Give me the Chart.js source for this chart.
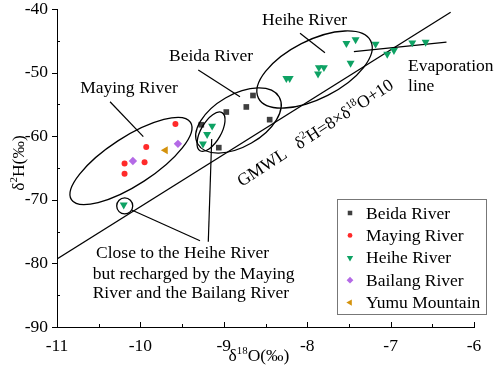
<!DOCTYPE html>
<html>
<head>
<meta charset="utf-8">
<script src="https://cdn.jsdelivr.net/npm/chart.js@4.4.0/dist/chart.umd.min.js"></script>
<style>
html, body { margin: 0; padding: 0; background: #fff; }
</style>
</head>
<body>
<canvas id="myChart" width="498" height="374"></canvas>
<script>
// values (delta 18O, delta 2H)
const beidaX = [-8.65, -8.73, -8.97, -9.27, -8.45, -9.06];
const beidaY = [-53.6, -55.4, -56.2, -58.2, -57.4, -61.8];
const mayingX = [-9.58, -9.93, -10.19, -9.95, -10.19];
const mayingY = [-58.1, -61.7, -64.3, -64.1, -65.9];
const heiheX = [-10.2, -9.14, -9.2, -9.25, -8.25, -8.21, -7.86, -7.8, -7.87, -7.48, -7.53, -7.42, -7.18, -7.04, -6.96, -6.74, -6.58];
const heiheY = [-70.8, -58.4, -59.7, -61.2, -50.9, -50.9, -49.2, -49.2, -50.2, -48.5, -45.4, -44.8, -45.5, -47.1, -46.5, -45.3, -45.2];
const bailangX = [-9.55, -10.09];
const bailangY = [-61.2, -63.9];
const yumuX = [-9.7];
const yumuY = [-62.2];

// GMWL and evaporation line end points
const gmwlX = [-11, -6.28];
const gmwlY = [-79.3, -40.5];
const evapX = [-7.44, -6.33];
const evapY = [-46.7, -45.2];

const xTicks = [-11, -10, -9, -8, -7, -6];
const yTicks = [-90, -80, -70, -60, -50, -40];

const FONT = '"Liberation Serif", "Times New Roman", serif';
const FS = 17.5;

function pts(xs, ys) {
    return xs.map((x, i) => ({ x: x, y: ys[i] }));
}

// ellipses around groups: centre in data units, radii in px, rotation in degrees
const ellipses = [
    { x: -10.113, y: -63.9, rx: 71, ry: 24, rot: -33 },
    { x: -8.824, y: -57.53, rx: 47, ry: 26, rot: -30 },
    { x: -9.153, y: -59.29, rx: 22, ry: 10, rot: -60 },
    { x: -7.912, y: -49.51, rx: 63, ry: 29, rot: -27 },
    { x: -10.188, y: -70.97, rx: 8, ry: 8, rot: 0 },
];

// leader lines [x1, y1, x2, y2] in data units
const leaders = [
    [-10.364, -54.58, -9.965, -60.08],
    [-9.306, -49.59, -8.806, -53.79],
    [-8.086, -43.82, -7.787, -46.87],
    [-10.104, -71.6, -9.285, -76.43],
    [-9.186, -76.59, -9.145, -60.44],
];

function richText(ctx, parts, x, y, size, align) {
    const big = size + 'px ' + FONT;
    const small = (size * 0.62) + 'px ' + FONT;
    let w = 0;
    parts.forEach(([t, s]) => {
        ctx.font = s ? small : big;
        w += ctx.measureText(t).width;
    });
    let cx = align === 'center' ? x - w / 2 : x;
    ctx.textBaseline = 'alphabetic';
    ctx.textAlign = 'left';
    const base = y + size * 0.33;
    parts.forEach(([t, s]) => {
        ctx.font = s ? small : big;
        ctx.fillText(t, cx, s ? base - size * 0.4 : base);
        cx += ctx.measureText(t).width;
    });
}

const annotations = {
    id: 'annotations',
    afterDatasetsDraw(chart) {
        const ctx = chart.ctx;
        const xs = chart.scales.x, ys = chart.scales.y;
        const area = chart.chartArea;
        const X = (v) => xs.getPixelForValue(v);
        const Y = (v) => ys.getPixelForValue(v);
        ctx.save();
        ctx.strokeStyle = '#000';
        ctx.fillStyle = '#000';

        // minor / major ticks
        ctx.lineWidth = 1;
        ctx.beginPath();
        for (let v = -11; v <= -6; v += 0.5) {
            const p = Math.round(X(v)) + 0.5;
            const len = Number.isInteger(v) ? 5 : 3;
            ctx.moveTo(p, area.bottom);
            ctx.lineTo(p, area.bottom - len);
        }
        for (let v = -90; v <= -40; v += 5) {
            const p = Math.round(Y(v)) + 0.5;
            if (v % 10 === 0) {
                ctx.moveTo(area.left - 5, p);
                ctx.lineTo(area.left, p);
            } else {
                ctx.moveTo(area.left, p);
                ctx.lineTo(area.left + 3, p);
            }
        }
        ctx.stroke();

        // ellipses
        ctx.lineWidth = 1.3;
        ellipses.forEach((e) => {
            ctx.beginPath();
            ctx.ellipse(X(e.x), Y(e.y), e.rx, e.ry, e.rot * Math.PI / 180, 0, Math.PI * 2);
            ctx.stroke();
        });

        // leader lines
        ctx.lineWidth = 1.2;
        leaders.forEach((l) => {
            ctx.beginPath();
            ctx.moveTo(X(l[0]), Y(l[1]));
            ctx.lineTo(X(l[2]), Y(l[3]));
            ctx.stroke();
        });

        // labels
        ctx.font = FS + 'px ' + FONT;
        ctx.textBaseline = 'middle';
        ctx.textAlign = 'center';
        ctx.fillText('Maying River', X(-10.137), Y(-52.42));
        ctx.fillText('Beida River', X(-9.153), Y(-47.39));
        ctx.fillText('Heihe River', X(-8.032), Y(-41.73));
        ctx.textAlign = 'left';
        ctx.fillText('Evaporation', X(-6.791), Y(-48.96));
        ctx.fillText('line', X(-6.791), Y(-52.11));
        ctx.fillText('Close to the Heihe River', X(-10.532), Y(-78.41));
        ctx.fillText('but recharged by the Maying', X(-10.572), Y(-81.67));
        ctx.fillText('River and the Bailang River', X(-10.572), Y(-84.7));

        // GMWL label along the line
        ctx.save();
        ctx.translate(X(-7.906), Y(-59.42));
        ctx.rotate(-33 * Math.PI / 180);
        richText(ctx, [['GMWL   δ', false], ['2', true], ['H=8×δ', false], ['18', true], ['O+10', false]], 0, 0, FS, 'center');
        ctx.restore();

        // axis titles
        richText(ctx, [['δ', false], ['18', true], ['O(‰)', false]], 259, 355, FS, 'center');
        ctx.save();
        ctx.translate(18, 163);
        ctx.rotate(-Math.PI / 2);
        richText(ctx, [['δ', false], ['2', true], ['H(‰)', false]], 0, 0, FS, 'center');
        ctx.restore();

        // legend box
        const lx = 337, ly = 199, lw = 149, lh = 115;
        ctx.lineWidth = 1;
        ctx.strokeStyle = '#777';
        ctx.strokeRect(lx + 0.5, ly + 0.5, lw, lh);
        ctx.textAlign = 'left';
        ctx.textBaseline = 'middle';
        ctx.font = FS + 'px ' + FONT;
        chart.data.datasets.forEach((ds, i) => {
            if (!ds.inLegend) return;
            const cy = ly + 14 + i * 22.4;
            ctx.fillStyle = ds.backgroundColor;
            ctx.strokeStyle = ds.backgroundColor;
            Chart.helpers.drawPoint(ctx, {
                pointStyle: ds.pointStyle,
                radius: ds.pointRadius * 0.8,
                rotation: ds.rotation || 0,
                borderWidth: 0,
            }, lx + 13, cy);
            ctx.fillStyle = '#000';
            ctx.fillText(ds.label, lx + 29, cy + 1);
        });
        ctx.restore();
    },
};

const scatterDefaults = { borderWidth: 0, showLine: false };

const ctx = document.getElementById('myChart').getContext('2d');
window.myChart = new Chart(ctx, {
    type: 'scatter',
    data: {
        datasets: [
            {
                ...scatterDefaults, label: 'Beida River', data: pts(beidaX, beidaY),
                pointStyle: 'rect', pointRadius: 4, backgroundColor: '#3f3f3f', inLegend: true,
            },
            {
                ...scatterDefaults, label: 'Maying River', data: pts(mayingX, mayingY),
                pointStyle: 'circle', pointRadius: 3, backgroundColor: '#ff2a2a', inLegend: true,
            },
            {
                ...scatterDefaults, label: 'Heihe River', data: pts(heiheX, heiheY),
                pointStyle: 'triangle', rotation: 180, pointRadius: 4.6, backgroundColor: '#0ea264', inLegend: true,
            },
            {
                ...scatterDefaults, label: 'Bailang River', data: pts(bailangX, bailangY),
                pointStyle: 'rectRot', pointRadius: 4.2, backgroundColor: '#b46ae6', inLegend: true,
            },
            {
                ...scatterDefaults, label: 'Yumu Mountain', data: pts(yumuX, yumuY),
                pointStyle: 'triangle', rotation: 270, pointRadius: 4.6, backgroundColor: '#d4920c', inLegend: true,
            },
            {
                label: 'GMWL', data: pts(gmwlX, gmwlY), showLine: true, pointRadius: 0,
                borderColor: '#000', borderWidth: 1.3, backgroundColor: '#000',
            },
            {
                label: 'Evaporation line', data: pts(evapX, evapY), showLine: true, pointRadius: 0,
                borderColor: '#000', borderWidth: 1.3, backgroundColor: '#000',
            },
        ],
    },
    options: {
        responsive: false,
        animation: false,
        devicePixelRatio: 1,
        layout: { padding: { left: 0, top: 9, right: 24, bottom: 0 } },
        plugins: {
            legend: { display: false },
            tooltip: { enabled: false },
        },
        scales: {
            x: {
                type: 'linear',
                min: -11,
                max: -6,
                afterFit: (scale) => {
                    scale.height = 47;
                    scale.paddingLeft = 0;
                    scale.paddingRight = 0;
                },
                afterBuildTicks: (scale) => { scale.ticks = xTicks.map((v) => ({ value: v })); },
                grid: { display: false, drawTicks: false },
                border: { display: true, color: '#000', width: 1 },
                ticks: {
                    color: '#000',
                    padding: 11,
                    maxRotation: 0,
                    font: { family: FONT, size: FS, lineHeight: 1 },
                },
            },
            y: {
                type: 'linear',
                min: -90,
                max: -40,
                afterFit: (scale) => {
                    scale.width = 57;
                    scale.paddingTop = 0;
                    scale.paddingBottom = 0;
                },
                afterBuildTicks: (scale) => { scale.ticks = yTicks.map((v) => ({ value: v })); },
                grid: { display: false, drawTicks: false },
                border: { display: true, color: '#000', width: 1 },
                ticks: {
                    color: '#000',
                    padding: 9,
                    font: { family: FONT, size: FS, lineHeight: 1 },
                },
            },
        },
    },
    plugins: [annotations],
});
</script>
</body>
</html>
